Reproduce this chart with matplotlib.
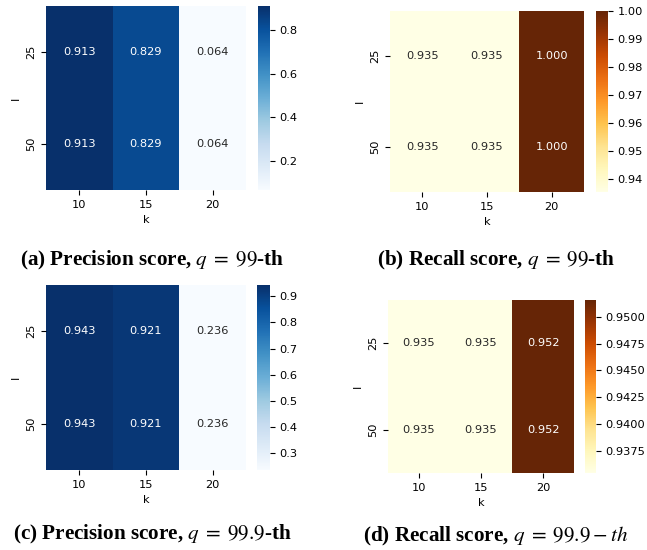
import matplotlib
matplotlib.use("Agg")
import matplotlib.pyplot as plt
import numpy as np
import seaborn as sns

plt.rcParams["mathtext.fontset"] = "stix"

# heatmap data: rows l, columns k
k_vals = [10, 15, 20]
l_vals = [25, 50]

prec_99 = [[0.913, 0.829, 0.064],
           [0.913, 0.829, 0.064]]
rec_99 = [[0.9354, 0.9354, 1.000],
          [0.9354, 0.9354, 1.000]]
prec_999 = [[0.943, 0.921, 0.236],
             [0.943, 0.921, 0.236]]
rec_999 = [[0.9354, 0.9354, 0.9516],
            [0.9354, 0.9354, 0.9516]]

captions = [
    r"(a) Precision score, $q\;=\;99$-th",
    r"(b) Recall score, $q\;=\;99$-th",
    r"(c) Precision score, $q\;=\;99.9$-th",
    r"(d) Recall score, $q\;=\;99.9 - th$",
]

W, H = 647, 550
fig = plt.figure(figsize=(W / 100, H / 100), dpi=100)


def px(x0, y0, x1, y1):
    # pixel box -> figure fraction [left, bottom, width, height]
    return [x0 / W, 1 - y1 / H, (x1 - x0) / W, (y1 - y0) / H]


panels = [
    (prec_99, "Blues", px(46, 6, 246, 190), px(258, 6, 270, 190), (152, 260)),
    (rec_99, "YlOrBr", px(390, 11, 584, 192), px(596, 11, 608, 192), (496, 260)),
    (prec_999, "Blues", px(46, 285, 246, 470), px(257, 285, 270, 470), (152, 534)),
    (rec_999, "YlOrBr", px(388, 300, 574, 473), px(585, 300, 596, 473), (496, 536)),
]

fs = 8.2
for (data, cmap, box, cbox, (cx, cy)), cap in zip(panels, captions):
    ax = fig.add_axes(box)
    cax = fig.add_axes(cbox)
    sns.heatmap(np.array(data), ax=ax, cbar_ax=cax, cmap=cmap, annot=True, fmt=".3f",
                xticklabels=k_vals, yticklabels=l_vals, annot_kws={"fontsize": fs})
    ax.set_xlabel("k", fontsize=fs)
    ax.set_ylabel("l", fontsize=fs)
    ax.tick_params(labelsize=fs)
    cax.tick_params(labelsize=fs)
    fig.text(cx / W, 1 - cy / H, cap, ha="center", va="center", fontsize=15.2,
             family="Liberation Serif", weight="bold")

fig.savefig("out.png", dpi=100)
